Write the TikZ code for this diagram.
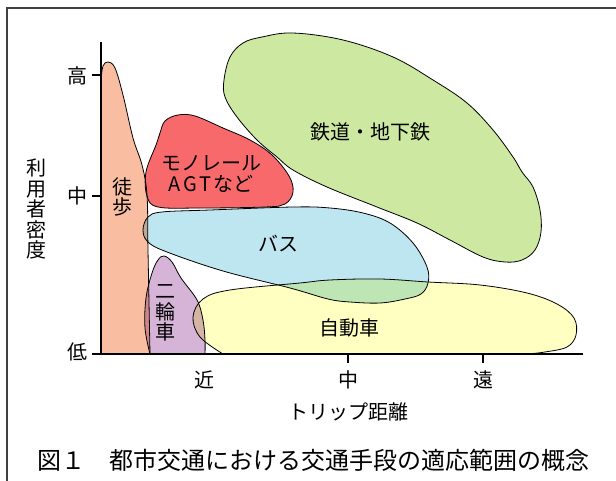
\documentclass[tikz,border=0pt]{standalone}
\usepackage{fontspec}
\setmainfont{Noto Sans CJK JP}
\definecolor{cwalk}{HTML}{F9BEA2}
\definecolor{cmono}{HTML}{F8696B}
\definecolor{crail}{HTML}{CDE9A1}
\definecolor{cbus}{HTML}{BEE6F0}
\definecolor{cbike}{HTML}{D6B4D8}
\definecolor{ccar}{HTML}{FFFFC1}
\definecolor{cframe}{HTML}{404040}
\begin{document}
\begin{tikzpicture}[x=1pt,y=-1pt,
  region/.style={draw=black, line width=0.8pt, line join=round},
  axisline/.style={line width=2pt, draw=black},
  lbl/.style={font=\fontsize{20}{20}\selectfont, inner sep=0pt},
  vlbl/.style={font=\fontsize{20}{20.5}\selectfont, inner sep=0pt, align=center},
  captionstyle/.style={font=\fontsize{24}{24}\selectfont, inner sep=0pt, anchor=west}]
\useasboundingbox (0,0) rectangle (616,481);
% frame (extends past the page)
\draw[line width=2pt, cframe] (7,500) -- (7,8) -- (640,8);

\begin{scope}[blend mode=multiply]
% walking
\path[region, fill=cwalk] (101,354) -- (101,80)
  -- plot[smooth, tension=0.6] coordinates {(101,80) (103,66) (108,62) (115,68) (123,95) (133,138) (142,165) (147,195) (148,250) (150,354)} -- cycle;
% rail
\path[region, fill=crail] plot[smooth cycle, tension=0.6] coordinates {(224,80) (230,57) (243,43) (262,37) (293,33) (343,40) (393,57) (433,80) (467,103) (493,130) (513,157) (522,172) (533,187) (540,210) (541,232) (535,250) (522,260) (505,262) (483,257) (450,240) (417,223) (377,207) (327,187) (293,170) (277,157) (257,140) (237,117) (225,97)};
% monorail
\path[region, fill=cmono] plot[smooth cycle, tension=0.6] coordinates {(146,172) (156,145) (160,133) (165,121) (178,115) (195,116) (223,128) (250,140) (272,155) (289,176) (293,192) (285,204) (265,207) (200,208) (158,207) (147,196)};
% bus
\path[region, fill=cbus] plot[smooth cycle, tension=0.6] coordinates {(143,230) (148,217) (162,212) (210,210) (293,207) (330,208) (363,213) (390,223) (413,243) (427,267) (428,283) (421,294) (405,299) (380,303) (350,302) (328,299) (290,288) (223,271) (167,252) (148,242)};
% two-wheeler
\path[region, fill=cbike] (205,354) -- (150,354)
  -- plot[smooth, tension=0.6] coordinates {(150,354) (145,328) (146,298) (152,273) (158,260) (164,256) (172,262) (181,278) (197,300) (203,320) (205,340) (205,354)} -- cycle;
% car
\path[region, fill=ccar] plot[smooth, tension=0.6] coordinates {(527,354) (545,352) (567,347) (576,335) (574,318) (557,304) (527,293) (480,285) (428,282) (380,279) (330,280) (300,283) (230,290) (203,299) (193,317) (200,337) (223,354)} -- cycle;
\end{scope}

% axes
\coordinate (O) at (101,354);
\coordinate (ytop) at (101,42);
\coordinate (xl) at (92,354);
\coordinate (xr) at (583,354);
\draw[axisline] (ytop) -- (O);
\draw[axisline] (xl) -- (xr);
\coordinate (th1) at (92,75);  \coordinate (th2) at (101,75);
\coordinate (tm1) at (92,196); \coordinate (tm2) at (101,196);
\coordinate (tx1) at (348,354); \coordinate (tx2) at (348,363);
\coordinate (ty1) at (483,354); \coordinate (ty2) at (483,363);
\draw[axisline] (th1) -- (th2);
\draw[axisline] (tm1) -- (tm2);
\draw[axisline] (tx1) -- (tx2);
\draw[axisline] (ty1) -- (ty2);

% axis labels
\node[lbl] (high) at (77,76) {高};
\node[lbl] (mid) at (77,196) {中};
\node[lbl] (low) at (77,352) {低};
\node[vlbl] (ytitle) at (36,209) {利\\用\\者\\密\\度};
\node[lbl] (near) at (204,380) {近};
\node[lbl] (xmid) at (348,380) {中};
\node[lbl] (far) at (483,380) {遠};
\node[lbl] (xtitle) at (348,412) {トリップ距離};

% region labels
\node[vlbl] (walk) at (122,197) {徒\\歩};
\node[vlbl] (mono) at (211,174) {モノレール\\A\hspace{2.5pt}G\hspace{2.5pt}T\hspace{1.5pt}など};
\node[lbl] (rail) at (370,132) {鉄道・地下鉄};
\node[lbl] (bus) at (278,244) {バス};
\node[vlbl] (bike) at (165,313) {二\\輪\\車};
\node[lbl] (car) at (349,328) {自動車};

% caption
\node[captionstyle] (captxt) at (37,460) {図１　都市交通における交通手段の適応範囲の概念};
\end{tikzpicture}
\end{document}
